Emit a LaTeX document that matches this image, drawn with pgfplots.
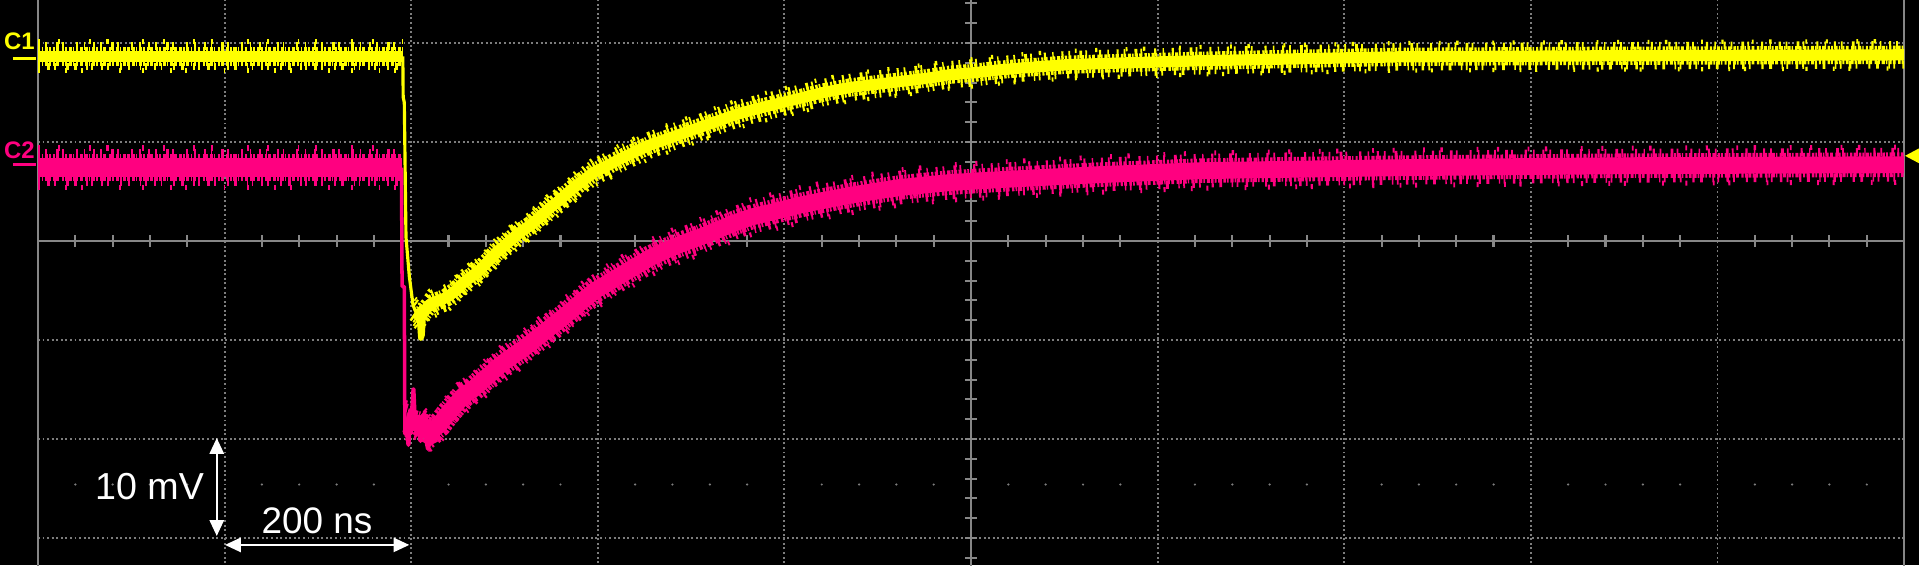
\documentclass[border=0pt]{standalone}
\usepackage{pgfplots}
\pgfplotsset{compat=1.18}
\usepackage{pgfplotstable}
\usepackage{fontspec}
\setmainfont{Liberation Sans}
\usetikzlibrary{arrows.meta}
\definecolor{scy}{RGB}{255,255,0}
\definecolor{scm}{RGB}{255,0,128}
\definecolor{gridc}{RGB}{135,135,135}
\definecolor{dotc}{RGB}{125,125,125}

% C1 (yellow) trace, in divisions
\pgfplotstableread{
x y
0 1.865
1.955 1.865
}\yflat
\pgfplotstableread{
x y
1.955 1.865
1.957 1.45
1.963 1.40
1.967 0.79
1.972 0.04
1.99 -0.36
2.01 -0.65
2.03 -0.74
}\ydrop
\pgfplotstableread{
x y
2.035 -0.74
2.045 -0.80
2.052 -0.98
2.058 -0.95
2.065 -0.72
}\yspk
\pgfplotstableread{
x y
2.02 -0.72
2.05 -0.76
2.10 -0.64
2.15 -0.60
2.19 -0.57
2.24 -0.50
2.28 -0.42
2.33 -0.35
2.37 -0.29
2.42 -0.19
2.46 -0.11
2.50 -0.05
2.545 0.03
2.60 0.11
2.64 0.16
2.70 0.26
2.74 0.33
2.80 0.42
2.86 0.52
2.92 0.61
2.985 0.70
3.05 0.76
3.12 0.83
3.20 0.90
3.28 0.97
3.37 1.03
3.46 1.09
3.55 1.15
3.64 1.21
3.73 1.27
3.82 1.32
3.95 1.38
4.08 1.44
4.21 1.50
4.35 1.55
4.48 1.58
4.62 1.61
4.75 1.64
4.89 1.68
5.02 1.70
5.16 1.73
5.33 1.755
5.51 1.78
5.85 1.80
6.23 1.82
6.75 1.84
7.30 1.86
8.37 1.87
10 1.88
}\ydec

% C2 (magenta) trace
\pgfplotstableread{
x y
0 0.74
1.95 0.74
}\mflat
\pgfplotstableread{
x y
1.948 0.74
1.951 -0.46
1.963 -0.46
1.966 -1.95
1.97 -1.80
}\mdrop
\pgfplotstableread{
x y
1.975 -1.80
1.985 -2.06
1.995 -1.78
2.005 -1.72
2.012 -1.50
2.02 -1.84
2.035 -1.80
2.05 -2.02
2.065 -1.86
2.09 -2.10
2.11 -1.92
}\mspk
\pgfplotstableread{
x y
1.97 -1.81
2.05 -1.85
2.10 -1.93
2.15 -1.86
2.19 -1.76
2.24 -1.65
2.28 -1.56
2.33 -1.50
2.37 -1.43
2.42 -1.35
2.46 -1.28
2.50 -1.22
2.545 -1.16
2.60 -1.09
2.64 -1.03
2.70 -0.94
2.74 -0.88
2.80 -0.79
2.86 -0.70
2.92 -0.60
2.985 -0.50
3.05 -0.43
3.10 -0.37
3.19 -0.27
3.28 -0.17
3.37 -0.09
3.46 -0.02
3.55 0.04
3.64 0.11
3.73 0.18
3.82 0.24
3.95 0.30
4.08 0.36
4.21 0.41
4.35 0.46
4.48 0.50
4.62 0.54
4.75 0.565
4.89 0.59
5.02 0.605
5.16 0.62
5.42 0.645
5.69 0.67
5.96 0.69
6.23 0.71
6.75 0.725
7.30 0.74
8.5 0.76
10 0.77
}\mdec

\tikzset{
  fuzzA/.style={dash pattern=on 0.7pt off 0.3pt on 0.5pt off 0.5pt on 0.9pt off 0.3pt on 0.4pt off 0.6pt on 0.6pt off 0.4pt on 0.8pt off 0.7pt},
  spkU/.style={dash pattern=on 0.6pt off 1.4pt on 0.5pt off 2.6pt on 0.8pt off 0.9pt on 0.5pt off 3.4pt on 0.6pt off 1.8pt on 0.4pt off 2.2pt},
  spkD/.style={dash pattern=on 0.5pt off 2.1pt on 0.7pt off 1.2pt on 0.5pt off 3.1pt on 0.6pt off 1.6pt on 0.8pt off 2.7pt on 0.4pt off 1.0pt},
  spkU2/.style={dash pattern=on 0.5pt off 5.3pt on 0.6pt off 8.1pt on 0.5pt off 4.4pt on 0.7pt off 9.6pt},
  spkD2/.style={dash pattern=on 0.6pt off 7.2pt on 0.5pt off 3.9pt on 0.6pt off 10.3pt on 0.5pt off 6.1pt},
}

\begin{document}
\begin{tikzpicture}
\begin{axis}[
  width=19.19cm, height=5.65cm, scale only axis,
  xmin=-0.2036, xmax=10.080, ymin=-3.273, ymax=2.434,
  axis lines=none, ticks=none,
  axis background/.style={fill=black},
  clip=true,
  every axis plot/.append style={line cap=butt, line join=round},
]
\fill[black] (rel axis cs:0,0) rectangle (rel axis cs:1,1);
% dotted grid
\pgfplotsinvokeforeach{1,2,3,4,6,7,8,9}{
  \draw[dotc, line width=0.55pt, dash pattern=on 0.55pt off 0.75pt] (axis cs:#1,-3.3) -- (axis cs:#1,2.45);
}
\pgfplotsinvokeforeach{-3,-2,-1,1,2}{
  \draw[dotc, line width=0.55pt, dash pattern=on 0.55pt off 0.75pt] (axis cs:0,#1) -- (axis cs:10,#1);
}
\pgfplotsinvokeforeach{0.2,0.4,0.6,0.8,1.2,1.4,1.6,1.8,2.2,2.4,2.6,2.8,3.2,3.4,3.6,3.8,4.2,4.4,4.6,4.8,5.2,5.4,5.6,5.8,6.2,6.4,6.6,6.8,7.2,7.4,7.6,7.8,8.2,8.4,8.6,8.8,9.2,9.4,9.6,9.8}{
  \fill[dotc] (axis cs:#1,-2.46) circle[radius=0.35pt];
  \draw[gridc, line width=0.6pt] (axis cs:#1,-0.06) -- (axis cs:#1,0.06);
}
\pgfplotsinvokeforeach{-3.2,-3.0,-2.8,-2.6,-2.4,-2.2,-2.0,-1.8,-1.6,-1.4,-1.2,-1.0,-0.8,-0.6,-0.4,-0.2,0.2,0.4,0.6,0.8,1.0,1.2,1.4,1.6,1.8,2.0,2.2,2.4}{
  \draw[gridc, line width=0.6pt] (axis cs:4.968,#1) -- (axis cs:5.032,#1);
}
% centre cross and frame
\draw[gridc, line width=0.75pt] (axis cs:0,0) -- (axis cs:10,0);
\draw[gridc, line width=0.75pt] (axis cs:5,-3.3) -- (axis cs:5,2.45);
\draw[gridc, line width=0.6pt] (axis cs:0,-3.3) -- (axis cs:0,2.45);
\draw[gridc, line width=0.6pt] (axis cs:10,-3.3) -- (axis cs:10,2.45);

% ---- C2 magenta ----
\addplot[scm, line width=5.4pt] table {\mflat};
\addplot[scm, line width=7.8pt, fuzzA] table {\mflat};
\addplot[scm, line width=2.6pt, spkU, yshift=4.0pt] table {\mflat};
\addplot[scm, line width=2.6pt, spkD, yshift=-4.0pt] table {\mflat};
\addplot[scm, line width=1.6pt, spkU2, yshift=5.6pt] table {\mflat};
\addplot[scm, line width=1.6pt, spkD2, yshift=-5.6pt] table {\mflat};
\addplot[scm, line width=1pt] table {\mdrop};
\addplot[scm, line width=1.2pt] table {\mspk};
\addplot[scm, line width=4.8pt] table {\mdec};
\addplot[scm, line width=7pt, fuzzA] table {\mdec};
\addplot[scm, line width=2.4pt, spkU, yshift=3.6pt] table {\mdec};
\addplot[scm, line width=2.4pt, spkD, yshift=-3.6pt] table {\mdec};
\addplot[scm, line width=1.4pt, spkU2, yshift=5pt] table {\mdec};
\addplot[scm, line width=1.4pt, spkD2, yshift=-5pt] table {\mdec};

% ---- C1 yellow ----
\addplot[scy, line width=3.2pt] table {\yflat};
\addplot[scy, line width=5.4pt, fuzzA] table {\yflat};
\addplot[scy, line width=2.2pt, spkU, yshift=2.9pt] table {\yflat};
\addplot[scy, line width=2.2pt, spkD, yshift=-2.9pt] table {\yflat};
\addplot[scy, line width=1.4pt, spkU2, yshift=4.1pt] table {\yflat};
\addplot[scy, line width=1.4pt, spkD2, yshift=-4.1pt] table {\yflat};
\addplot[scy, line width=0.9pt] table {\ydrop};
\addplot[scy, line width=1.6pt] table {\yspk};
\addplot[scy, line width=3.2pt] table {\ydec};
\addplot[scy, line width=5.2pt, fuzzA] table {\ydec};
\addplot[scy, line width=2.2pt, spkU, yshift=2.8pt] table {\ydec};
\addplot[scy, line width=2.2pt, spkD, yshift=-2.8pt] table {\ydec};
\addplot[scy, line width=1.2pt, spkU2, yshift=3.9pt] table {\ydec};
\addplot[scy, line width=1.2pt, spkD2, yshift=-3.9pt] table {\ydec};

% channel labels and markers
\node[scy, font=\fontsize{6.8}{7}\selectfont\bfseries, inner sep=0pt] at (axis cs:-0.099,2.02) {C1};
\draw[scy, line width=0.9pt] (axis cs:-0.135,1.84) -- (axis cs:-0.012,1.84);
\node[scm, font=\fontsize{6.8}{7}\selectfont\bfseries, inner sep=0pt] at (axis cs:-0.099,0.92) {C2};
\draw[scm, line width=0.9pt] (axis cs:-0.135,0.77) -- (axis cs:-0.012,0.77);
\fill[scy] (axis cs:10.005,0.86) -- (axis cs:10.08,0.935) -- (axis cs:10.08,0.785) -- cycle;

% scale annotations
\draw[white, line width=0.7pt, {Triangle[length=4.5pt,width=4pt]}-{Triangle[length=4.5pt,width=4pt]}] (axis cs:0.958,-1.99) -- (axis cs:0.958,-2.98);
\draw[white, line width=0.7pt, {Triangle[length=4.5pt,width=4pt]}-{Triangle[length=4.5pt,width=4pt]}] (axis cs:1.002,-3.07) -- (axis cs:1.99,-3.07);
\node[white, font=\fontsize{10.7}{12}\selectfont, inner sep=0pt] at (axis cs:0.598,-2.485) {10 mV};
\node[white, font=\fontsize{10.5}{12}\selectfont, inner sep=0pt] at (axis cs:1.495,-2.823) {200 ns};
\end{axis}
\end{tikzpicture}
\end{document}
